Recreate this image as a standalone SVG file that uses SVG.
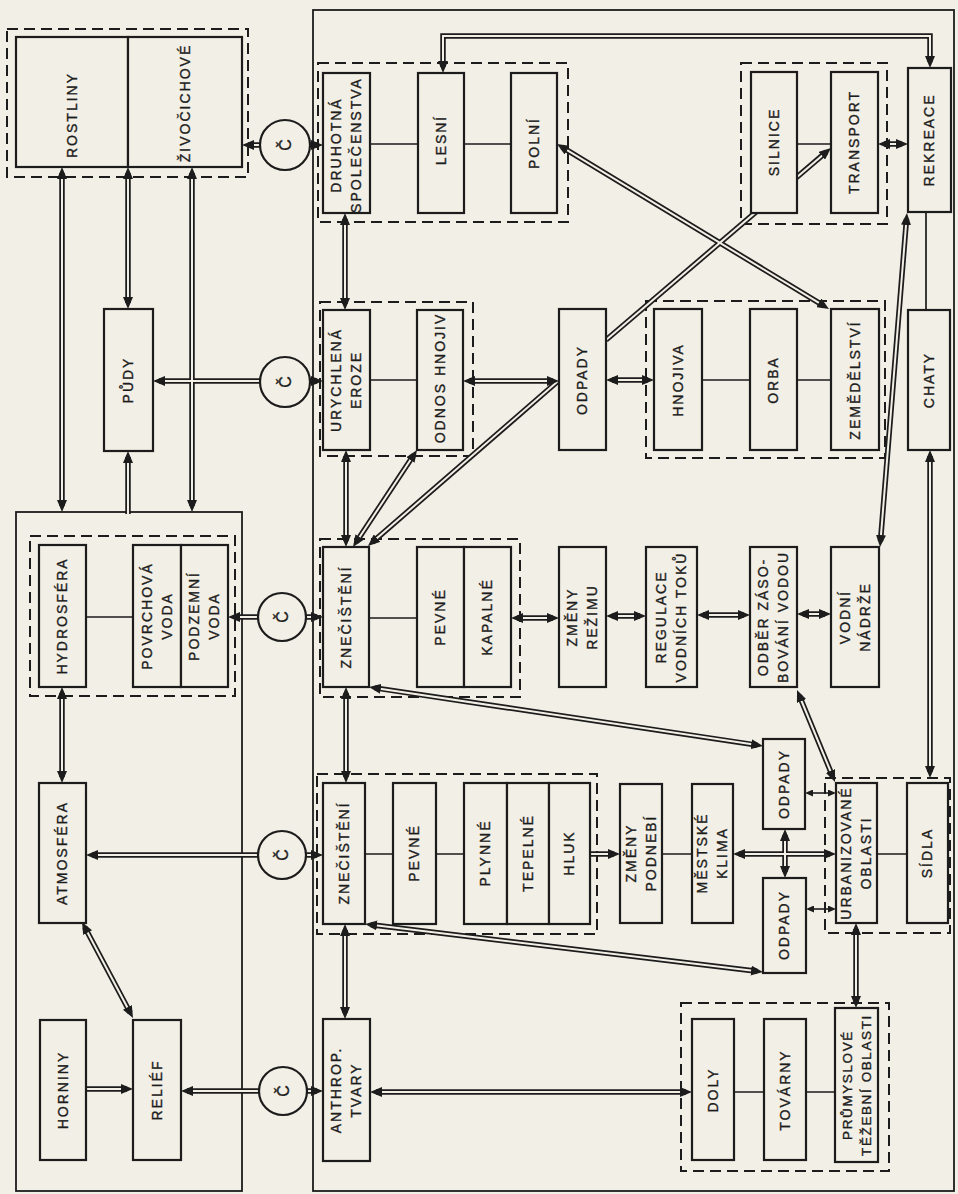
<svg xmlns="http://www.w3.org/2000/svg" xmlns:xlink="http://www.w3.org/1999/xlink" width="958" height="1194" viewBox="0 0 958 1194">
<style>
.bg{fill:#f2efe6}
.box{fill:#f2efe6;stroke:#1c1c1c;stroke-width:2.2}
.frame{fill:none;stroke:#1c1c1c;stroke-width:1.8}
.dash{fill:none;stroke:#1c1c1c;stroke-width:2;stroke-dasharray:11 6}
.thin{fill:none;stroke:#1c1c1c;stroke-width:1.7}
.outer{fill:none;stroke:#1c1c1c;stroke-width:5.5}
.inner{fill:none;stroke:#f2efe6;stroke-width:2}
.heads{fill:none;stroke:none}
.both{marker-start:url(#ah);marker-end:url(#ah)}
.end{marker-end:url(#ah)}
.sm{fill:none;stroke:#1c1c1c;stroke-width:1.6;marker-start:url(#ahs);marker-end:url(#ahs)}
.circ{fill:#f2efe6;stroke:#1c1c1c;stroke-width:2.2}
text{font-family:"Liberation Sans",Arial,sans-serif;font-size:14px;letter-spacing:2px;fill:#1c1c1c;stroke:#1c1c1c;stroke-width:0.35px;text-anchor:middle}
.c{font-size:16px;letter-spacing:0}
</style>
<defs>
<marker id="ah" markerWidth="12" markerHeight="10" refX="6" refY="5" orient="auto-start-reverse" markerUnits="userSpaceOnUse" viewBox="0 0 12 10"><path d="M0,0 L12,5 L0,10 z" fill="#1c1c1c"/></marker>
<marker id="ahs" markerWidth="8" markerHeight="7" refX="5" refY="3.5" orient="auto-start-reverse" markerUnits="userSpaceOnUse" viewBox="0 0 8 7"><path d="M0,0 L8,3.5 L0,7 z" fill="#1c1c1c"/></marker>
<path id="c1" d="M62,173 V506"/>
<path id="c2" d="M128,173 V303"/>
<path id="c3" d="M192,173 V506"/>
<path id="c4" d="M128,514 V457"/>
<path id="c5a" d="M262,145 H248"/>
<path id="c5b" d="M308,145 H317"/>
<path id="c6a" d="M262,381 H159"/>
<path id="c6b" d="M308,381 H317"/>
<path id="c7a" d="M260,617 H234"/>
<path id="c7b" d="M304,617 H317"/>
<path id="c8a" d="M260,855 H92"/>
<path id="c8b" d="M304,855 H317"/>
<path id="c9a" d="M259,1091 H187"/>
<path id="c9b" d="M306,1091 H317"/>
<path id="c10" d="M443,67 V36 H930 V62"/>
<path id="c11" d="M562.1,147.1 L823.9,305.9"/>
<path id="c12" d="M606,340 L826.4,151.9"/>
<path id="c13" d="M884,144 H902"/>
<path id="c14" d="M906.5,219 L880.5,541"/>
<path id="c16" d="M930,456 V772"/>
<path id="c17" d="M345,219 V304"/>
<path id="c18" d="M469,381 H553"/>
<path id="c19" d="M612,380 H648"/>
<path id="c20" d="M413.7,455 L356.3,542"/>
<path id="c21" d="M557,382 L372.5,542.1"/>
<path id="c22" d="M346,456 V541"/>
<path id="c23" d="M517,618 H553"/>
<path id="c24" d="M612,616 H640"/>
<path id="c25" d="M703,615 H744"/>
<path id="c26" d="M803,614 H825"/>
<path id="c27" d="M799.3,695.5 L832.7,776.5"/>
<path id="c28" d="M374.9,687.9 L757.1,745.1"/>
<path id="c29" d="M346,693 V777"/>
<path id="c30" d="M590,854 H614"/>
<path id="c31" d="M739,854 H830"/>
<path id="c32" d="M785,835 V872"/>
<path id="c35" d="M371,924.7 L757,971.3"/>
<path id="c36" d="M345,930 V1013"/>
<path id="c37" d="M376,1092 H686"/>
<path id="c38" d="M856,929 V1002"/>
<path id="c39" d="M62,693 V777"/>
<path id="c40" d="M84.8,927.3 L130.2,1012.7"/>
<path id="c41" d="M86,1089 H127"/>
</defs>
<rect class="bg" x="0" y="0" width="958" height="1194"/>

<g id="frames">
<rect id="frame-nature" class="frame" x="16" y="512" width="226" height="679"/>
<rect id="frame-society" class="frame" x="313" y="10" width="641" height="1181"/>
</g>

<g id="groups">
<rect id="grp-biota" class="dash" x="7" y="29" width="241" height="148"/>
<rect id="grp-vegetation" class="dash" x="318" y="63" width="250" height="159"/>
<rect id="grp-traffic" class="dash" x="741" y="63" width="146" height="161"/>
<rect id="grp-erosion" class="dash" x="320" y="302" width="153" height="154"/>
<rect id="grp-agriculture" class="dash" x="646" y="301" width="239" height="157"/>
<rect id="grp-hydro" class="dash" x="30" y="536" width="205" height="160"/>
<rect id="grp-waterpollution" class="dash" x="320" y="539" width="200" height="158"/>
<rect id="grp-airpollution" class="dash" x="317" y="774" width="280" height="160"/>
<rect id="grp-urban" class="dash" x="825" y="778" width="125" height="155"/>
<rect id="grp-industry" class="dash" x="681" y="1003" width="208" height="168"/>
</g>

<g id="connectors">
<g class="thin">
<path d="M370,144 H418 M464,144 H511 M797,144 H831 M926,212 V310 M370,380 H417 M702,380 H750 M797,380 H831 M86,617 H133 M369,618 H417 M365,854 H393 M436,854 H464 M662,854 H692 M877,854 H907 M734,1092 H764 M806,1092 H835"/>
</g>
<g class="outer">
<use href="#c1"/><use href="#c2"/><use href="#c3"/><use href="#c4"/>
<use href="#c5a"/><use href="#c5b"/><use href="#c6a"/><use href="#c6b"/>
<use href="#c7a"/><use href="#c7b"/><use href="#c8a"/><use href="#c8b"/>
<use href="#c9a"/><use href="#c9b"/><use href="#c10"/><use href="#c11"/>
<use href="#c12"/><use href="#c13"/><use href="#c14"/><use href="#c16"/>
<use href="#c17"/><use href="#c18"/><use href="#c19"/><use href="#c20"/>
<use href="#c21"/><use href="#c22"/><use href="#c23"/><use href="#c24"/>
<use href="#c25"/><use href="#c26"/><use href="#c27"/><use href="#c28"/>
<use href="#c29"/><use href="#c30"/><use href="#c31"/><use href="#c32"/>
<use href="#c35"/><use href="#c36"/><use href="#c37"/><use href="#c38"/>
<use href="#c39"/><use href="#c40"/><use href="#c41"/>
</g>
<g class="inner">
<use href="#c1"/><use href="#c2"/><use href="#c3"/><use href="#c4"/>
<use href="#c5a"/><use href="#c5b"/><use href="#c6a"/><use href="#c6b"/>
<use href="#c7a"/><use href="#c7b"/><use href="#c8a"/><use href="#c8b"/>
<use href="#c9a"/><use href="#c9b"/><use href="#c10"/><use href="#c11"/>
<use href="#c12"/><use href="#c13"/><use href="#c14"/><use href="#c16"/>
<use href="#c17"/><use href="#c18"/><use href="#c19"/><use href="#c20"/>
<use href="#c21"/><use href="#c22"/><use href="#c23"/><use href="#c24"/>
<use href="#c25"/><use href="#c26"/><use href="#c27"/><use href="#c28"/>
<use href="#c29"/><use href="#c30"/><use href="#c31"/><use href="#c32"/>
<use href="#c35"/><use href="#c36"/><use href="#c37"/><use href="#c38"/>
<use href="#c39"/><use href="#c40"/><use href="#c41"/>
</g>
<g class="heads">
<use href="#c1" class="both"/><use href="#c2" class="both"/><use href="#c3" class="both"/><use href="#c4" class="end"/>
<use href="#c5a" class="end"/><use href="#c5b" class="end"/><use href="#c6a" class="end"/><use href="#c6b" class="end"/>
<use href="#c7a" class="end"/><use href="#c7b" class="end"/><use href="#c8a" class="end"/><use href="#c8b" class="end"/>
<use href="#c9a" class="end"/><use href="#c9b" class="end"/><use href="#c10" class="both"/><use href="#c11" class="both"/>
<use href="#c12" class="end"/><use href="#c13" class="both"/><use href="#c14" class="both"/><use href="#c16" class="both"/>
<use href="#c17" class="both"/><use href="#c18" class="both"/><use href="#c19" class="both"/><use href="#c20" class="both"/>
<use href="#c21" class="end"/><use href="#c22" class="both"/><use href="#c23" class="both"/><use href="#c24" class="both"/>
<use href="#c25" class="both"/><use href="#c26" class="both"/><use href="#c27" class="both"/><use href="#c28" class="both"/>
<use href="#c29" class="both"/><use href="#c30" class="end"/><use href="#c31" class="both"/><use href="#c32" class="both"/>
<use href="#c35" class="both"/><use href="#c36" class="both"/><use href="#c37" class="both"/><use href="#c38" class="both"/>
<use href="#c39" class="both"/><use href="#c40" class="both"/><use href="#c41" class="end"/>
</g>
<path class="sm" d="M808,793 H833"/>
<path class="sm" d="M809,909 H833"/>
</g>

<g id="n-rostliny"><rect class="box" x="16" y="37" width="112" height="130"/><text transform="translate(72,115) rotate(-90)" y="5">ROSTLINY</text></g>
<g id="n-zivocichove"><rect class="box" x="128" y="37" width="114" height="130"/><text transform="translate(185,103) rotate(-90)" y="5">ŽIVOČICHOVÉ</text></g>
<g id="n-pudy"><rect class="box" x="104" y="309" width="49" height="142"/><text transform="translate(128,380) rotate(-90)" y="5">PŮDY</text></g>
<g id="n-hydrosfera"><rect class="box" x="39" y="545" width="47" height="142"/><text transform="translate(62,616) rotate(-90)" y="5">HYDROSFÉRA</text></g>
<g id="n-povrchova"><rect class="box" x="133" y="545" width="48" height="142"/><text transform="translate(157,616) rotate(-90)"><tspan x="0" y="-5">POVRCHOVÁ</tspan><tspan x="0" y="15">VODA</tspan></text></g>
<g id="n-podzemni"><rect class="box" x="181" y="545" width="47" height="142"/><text transform="translate(204,616) rotate(-90)"><tspan x="0" y="-5">PODZEMNÍ</tspan><tspan x="0" y="15">VODA</tspan></text></g>
<g id="n-atmosfera"><rect class="box" x="39" y="783" width="47" height="140"/><text transform="translate(62,853) rotate(-90)" y="5">ATMOSFÉRA</text></g>
<g id="n-horniny"><rect class="box" x="40" y="1020" width="46" height="140"/><text transform="translate(63,1090) rotate(-90)" y="5">HORNINY</text></g>
<g id="n-relief"><rect class="box" x="133" y="1020" width="48" height="140"/><text transform="translate(157,1090) rotate(-90)" y="5">RELIÉF</text></g>

<g id="n-druhotna"><rect class="box" x="323" y="73" width="47" height="140"/><text transform="translate(346,145) rotate(-90)"><tspan x="0" y="-5">DRUHOTNÁ</tspan><tspan x="0" y="15">SPOLEČENSTVA</tspan></text></g>
<g id="n-lesni"><rect class="box" x="418" y="73" width="46" height="140"/><text transform="translate(441,140) rotate(-90)" y="5">LESNÍ</text></g>
<g id="n-polni"><rect class="box" x="511" y="73" width="46" height="140"/><text transform="translate(534,143) rotate(-90)" y="5">POLNÍ</text></g>
<g id="n-silnice"><rect class="box" x="751" y="72" width="46" height="141"/><text transform="translate(774,142) rotate(-90)" y="5">SILNICE</text></g>
<g id="n-transport"><rect class="box" x="831" y="72" width="47" height="141"/><text transform="translate(854,142) rotate(-90)" y="5">TRANSPORT</text></g>
<g id="n-rekreace"><rect class="box" x="908" y="68" width="43" height="144"/><text transform="translate(929,140) rotate(-90)" y="5">REKREACE</text></g>

<g id="n-urychlena"><rect class="box" x="323" y="310" width="47" height="140"/><text transform="translate(346,380) rotate(-90)"><tspan x="0" y="-5">URYCHLENÁ</tspan><tspan x="0" y="15">EROZE</tspan></text></g>
<g id="n-odnos"><rect class="box" x="417" y="310" width="46" height="140"/><text transform="translate(440,378) rotate(-90)" y="5">ODNOS HNOJIV</text></g>
<g id="n-odpady1"><rect class="box" x="559" y="309" width="47" height="141"/><text transform="translate(582,380) rotate(-90)" y="5">ODPADY</text></g>
<g id="n-hnojiva"><rect class="box" x="654" y="309" width="48" height="141"/><text transform="translate(678,380) rotate(-90)" y="5">HNOJIVA</text></g>
<g id="n-orba"><rect class="box" x="750" y="309" width="47" height="141"/><text transform="translate(773,380) rotate(-90)" y="5">ORBA</text></g>
<g id="n-zemedelstvi"><rect class="box" x="831" y="309" width="48" height="141"/><text transform="translate(855,380) rotate(-90)" y="5">ZEMĚDĚLSTVÍ</text></g>
<g id="n-chaty"><rect class="box" x="908" y="310" width="42" height="140"/><text transform="translate(929,380) rotate(-90)" y="5">CHATY</text></g>

<g id="n-znecisteni-voda"><rect class="box" x="323" y="547" width="46" height="140"/><text transform="translate(346,617) rotate(-90)" y="5">ZNEČIŠTĚNÍ</text></g>
<g id="n-pevne-voda"><rect class="box" x="417" y="547" width="47" height="140"/><text transform="translate(440,617) rotate(-90)" y="5">PEVNÉ</text></g>
<g id="n-kapalne"><rect class="box" x="464" y="547" width="47" height="140"/><text transform="translate(487,617) rotate(-90)" y="5">KAPALNÉ</text></g>
<g id="n-zmeny-rezimu"><rect class="box" x="559" y="547" width="47" height="140"/><text transform="translate(582,617) rotate(-90)"><tspan x="0" y="-5">ZMĚNY</tspan><tspan x="0" y="15">REŽIMU</tspan></text></g>
<g id="n-regulace"><rect class="box" x="646" y="547" width="51" height="140"/><text transform="translate(671,617) rotate(-90)"><tspan x="0" y="-5">REGULACE</tspan><tspan x="0" y="15">VODNÍCH TOKŮ</tspan></text></g>
<g id="n-odber"><rect class="box" x="750" y="547" width="47" height="140"/><text transform="translate(773,617) rotate(-90)"><tspan x="0" y="-5">ODBĚR ZÁSO-</tspan><tspan x="0" y="15">BOVÁNÍ VODOU</tspan></text></g>
<g id="n-vodni-nadrze"><rect class="box" x="831" y="547" width="48" height="140"/><text transform="translate(855,617) rotate(-90)"><tspan x="0" y="-5">VODNÍ</tspan><tspan x="0" y="15">NÁDRŽE</tspan></text></g>

<g id="n-znecisteni-ovzdusi"><rect class="box" x="323" y="783" width="42" height="141"/><text transform="translate(344,853) rotate(-90)" y="5">ZNEČIŠTĚNÍ</text></g>
<g id="n-pevne-ovzdusi"><rect class="box" x="393" y="783" width="43" height="141"/><text transform="translate(414,853) rotate(-90)" y="5">PEVNÉ</text></g>
<g id="n-plynne"><rect class="box" x="464" y="783" width="43" height="141"/><text transform="translate(485,853) rotate(-90)" y="5">PLYNNÉ</text></g>
<g id="n-tepelne"><rect class="box" x="507" y="783" width="42" height="141"/><text transform="translate(528,853) rotate(-90)" y="5">TEPELNÉ</text></g>
<g id="n-hluk"><rect class="box" x="549" y="783" width="41" height="141"/><text transform="translate(569,853) rotate(-90)" y="5">HLUK</text></g>
<g id="n-zmeny-podnebi"><rect class="box" x="620" y="784" width="42" height="139"/><text transform="translate(641,853) rotate(-90)"><tspan x="0" y="-5">ZMĚNY</tspan><tspan x="0" y="15">PODNEBÍ</tspan></text></g>
<g id="n-mestske-klima"><rect class="box" x="692" y="784" width="41" height="139"/><text transform="translate(712,853) rotate(-90)"><tspan x="0" y="-5">MĚSTSKÉ</tspan><tspan x="0" y="15">KLIMA</tspan></text></g>
<g id="n-odpady2"><rect class="box" x="763" y="739" width="42" height="90"/><text transform="translate(784,784) rotate(-90)" y="5">ODPADY</text></g>
<g id="n-odpady3"><rect class="box" x="763" y="878" width="43" height="95"/><text transform="translate(784,925) rotate(-90)" y="5">ODPADY</text></g>
<g id="n-urbanizovane"><rect class="box" x="836" y="783" width="41" height="140"/><text transform="translate(856,853) rotate(-90)"><tspan x="0" y="-5">URBANIZOVANÉ</tspan><tspan x="0" y="15">OBLASTI</tspan></text></g>
<g id="n-sidla"><rect class="box" x="907" y="783" width="41" height="140"/><text transform="translate(927,853) rotate(-90)" y="5">SÍDLA</text></g>

<g id="n-anthrop"><rect class="box" x="323" y="1019" width="47" height="142"/><text transform="translate(346,1090) rotate(-90)"><tspan x="0" y="-5">ANTHROP.</tspan><tspan x="0" y="15">TVARY</tspan></text></g>
<g id="n-doly"><rect class="box" x="692" y="1019" width="42" height="141"/><text transform="translate(713,1090) rotate(-90)" y="5">DOLY</text></g>
<g id="n-tovarny"><rect class="box" x="764" y="1019" width="42" height="141"/><text transform="translate(785,1090) rotate(-90)" y="5">TOVÁRNY</text></g>
<g id="n-prumyslove"><rect class="box" x="835" y="1008" width="43" height="154"/><text transform="translate(857,1085) rotate(-90)" style="font-size:13.5px;letter-spacing:1.6px"><tspan x="0" y="-5">PRŮMYSLOVÉ</tspan><tspan x="0" y="14">TĚŽEBNÍ OBLASTI</tspan></text></g>

<g id="n-c1"><circle class="circ" cx="285" cy="145" r="25"/><text class="c" transform="translate(285,145) rotate(-90)" y="6">Č</text></g>
<g id="n-c2"><circle class="circ" cx="285" cy="382" r="25"/><text class="c" transform="translate(285,382) rotate(-90)" y="6">Č</text></g>
<g id="n-c3"><circle class="circ" cx="282" cy="617" r="24"/><text class="c" transform="translate(282,617) rotate(-90)" y="6">Č</text></g>
<g id="n-c4"><circle class="circ" cx="282" cy="855" r="24"/><text class="c" transform="translate(282,855) rotate(-90)" y="6">Č</text></g>
<g id="n-c5"><circle class="circ" cx="283" cy="1091" r="24"/><text class="c" transform="translate(283,1091) rotate(-90)" y="6">Č</text></g>
</svg>
